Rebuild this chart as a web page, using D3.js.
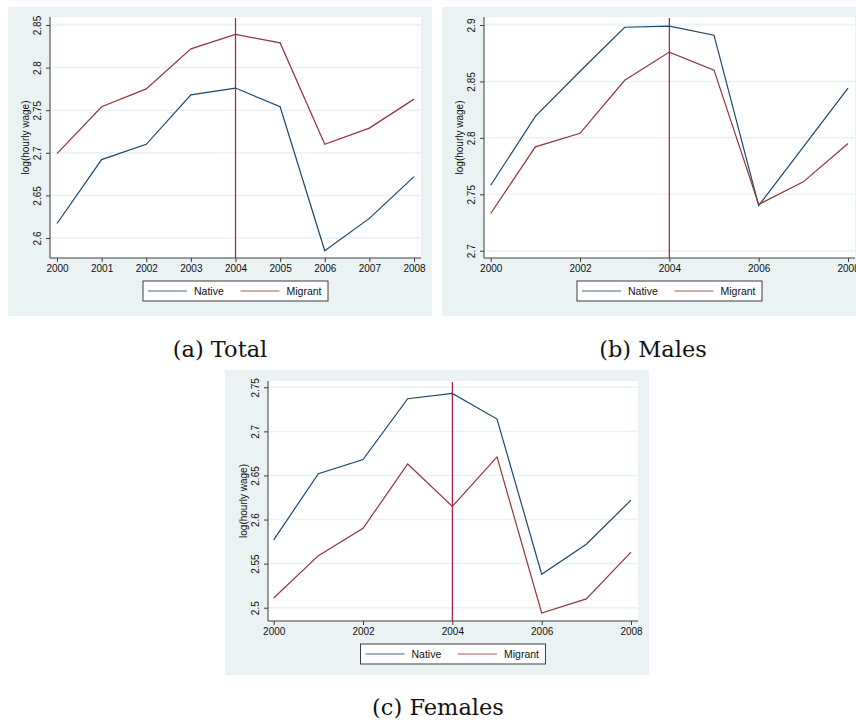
<!DOCTYPE html>
<html>
<head>
<meta charset="utf-8">
<script src="https://cdn.jsdelivr.net/npm/d3@7"></script>
<style>
    body { margin: 0; background: #fff; }
    svg { display: block; }
    .tick text { font-family: "Liberation Sans", Arial, sans-serif; font-size: 10px; fill: #111; }
    .axis path, .axis line { stroke: #3c3c3c; }
</style>
</head>
<body>
<svg id="chart" width="856" height="726"></svg>
<script>
var years = [2000, 2001, 2002, 2003, 2004, 2005, 2006, 2007, 2008];

var totalNative   = [2.617, 2.692, 2.710, 2.768, 2.776, 2.754, 2.585, 2.623, 2.672];
var totalMigrant  = [2.699, 2.754, 2.775, 2.822, 2.839, 2.829, 2.710, 2.729, 2.763];
var malesNative   = [2.758, 2.819, 2.859, 2.898, 2.899, 2.891, 2.740, 2.792, 2.844];
var malesMigrant  = [2.733, 2.792, 2.804, 2.851, 2.876, 2.860, 2.741, 2.761, 2.795];
var femalesNative = [2.577, 2.652, 2.668, 2.737, 2.743, 2.714, 2.538, 2.572, 2.622];
var femalesMigrant= [2.511, 2.559, 2.590, 2.663, 2.615, 2.671, 2.494, 2.510, 2.563];

var totalTicks   = [2.6, 2.65, 2.7, 2.75, 2.8, 2.85];
var malesTicks   = [2.7, 2.75, 2.8, 2.85, 2.9];
var femalesTicks = [2.5, 2.55, 2.6, 2.65, 2.7, 2.75];
var allYearTicks = [2000, 2001, 2002, 2003, 2004, 2005, 2006, 2007, 2008];
var evenYearTicks = [2000, 2002, 2004, 2006, 2008];

var seriesNames = ["Native", "Migrant"];
var reformYear = 2004;
var yTitle = "log(hourly wage)";

var nativeColor = "#1a476f";
var migrantColor = "#90353b";
var bgColor = "#eaf2f3";

var chart = d3.select("#chart");

// ----------------------------------------------------

function drawPanel(p) {
    var g = chart.append("g");

    g.append("rect")
        .attr("x", p.bg[0]).attr("y", p.bg[1])
        .attr("width", p.bg[2]).attr("height", p.bg[3])
        .attr("fill", bgColor);

    g.append("rect")
        .attr("x", p.left).attr("y", p.top)
        .attr("width", p.right - p.left).attr("height", p.bottom - p.top)
        .attr("fill", "#fff");

    var x = d3.scaleLinear().domain([2000, 2008]).range(p.xRange);
    var y = d3.scaleLinear().domain(p.yDomain).range(p.yRange);

    // grid
    g.selectAll(".grid")
        .data(p.yTicks)
        .enter().append("line")
        .attr("x1", p.left + 1).attr("x2", p.right)
        .attr("y1", function (d) { return y(d); })
        .attr("y2", function (d) { return y(d); })
        .attr("stroke", bgColor)
        .attr("stroke-width", 1.5);

    // y axis
    var yAxis = d3.axisLeft(y).tickValues(p.yTicks).tickSize(4).tickFormat(d3.format("~g"));
    var ya = g.append("g")
        .attr("class", "axis")
        .attr("transform", "translate(" + p.left + ",0)")
        .call(yAxis);
    ya.select(".domain").attr("d", "M0," + p.top + "V" + p.bottom);
    ya.selectAll(".tick text")
        .attr("transform", "rotate(-90)")
        .attr("x", 0).attr("y", -9.5).attr("dy", 0)
        .style("text-anchor", "middle");

    g.append("text")
        .attr("transform", "translate(" + (p.left - 21.5) + "," + ((p.top + p.bottom) / 2) + ") rotate(-90)")
        .style("text-anchor", "middle")
        .style("font-family", "Liberation Sans, Arial, sans-serif")
        .style("font-size", "10px")
        .attr("fill", "#111")
        .text(yTitle);

    // x axis
    var xAxis = d3.axisBottom(x).tickValues(p.xTicks).tickSize(4).tickFormat(d3.format("d"));
    var xa = g.append("g")
        .attr("class", "axis")
        .attr("transform", "translate(0," + p.bottom + ")")
        .call(xAxis);
    xa.select(".domain").attr("d", "M" + p.left + ",0H" + p.right);
    xa.selectAll(".tick text").attr("y", 14).attr("dy", 0);

    // reform line
    g.append("line")
        .attr("x1", x(reformYear)).attr("x2", x(reformYear))
        .attr("y1", p.top + 1).attr("y2", p.bottom)
        .attr("stroke", "#b8153d")
        .attr("stroke-width", 1.2);

    var line = d3.line()
        .x(function (d, i) { return x(years[i]); })
        .y(function (d) { return y(d); });

    g.append("path")
        .attr("d", line(p.native))
        .attr("fill", "none")
        .attr("stroke", nativeColor)
        .attr("stroke-width", 1.2);

    g.append("path")
        .attr("d", line(p.migrant))
        .attr("fill", "none")
        .attr("stroke", migrantColor)
        .attr("stroke-width", 1.2);

    // legend
    var lx = (p.left + p.right) / 2 - 92.5;
    var ly = p.bottom + 23;
    var leg = g.append("g").attr("transform", "translate(" + lx + "," + ly + ")");
    leg.append("rect")
        .attr("width", 185).attr("height", 20)
        .attr("fill", "#fff")
        .attr("stroke", "#3c3c3c")
        .attr("stroke-width", 1);

    var legColors = [nativeColor, migrantColor];
    var legOffsets = [5, 97.5];
    seriesNames.forEach(function (name, i) {
        leg.append("line")
            .attr("x1", legOffsets[i]).attr("x2", legOffsets[i] + 39)
            .attr("y1", 10).attr("y2", 10)
            .attr("stroke", legColors[i])
            .attr("stroke-opacity", 0.55)
            .attr("stroke-width", 1.5);
        leg.append("text")
            .attr("x", legOffsets[i] + 46).attr("y", 13.5)
            .style("font-family", "Liberation Sans, Arial, sans-serif")
            .style("font-size", "10.5px")
            .attr("fill", "#111")
            .text(name);
    });

    // caption
    chart.append("text")
        .attr("x", p.caption[1]).attr("y", p.caption[2])
        .style("text-anchor", "middle")
        .style("font-family", "DejaVu Serif, serif")
        .style("font-size", "22.5px")
        .attr("fill", "#111")
        .text(p.caption[0]);
}

drawPanel({
    bg: [8, 7, 424, 309], left: 50, right: 421, top: 17, bottom: 258,
    xRange: [57, 414], yDomain: [2.6, 2.85], yRange: [238, 25],
    yTicks: totalTicks, xTicks: allYearTicks,
    native: totalNative, migrant: totalMigrant,
    caption: ["(a) Total", 220, 357]
});

drawPanel({
    bg: [442, 7, 414, 309], left: 484, right: 855, top: 17, bottom: 258,
    xRange: [490.7, 848], yDomain: [2.7, 2.9], yRange: [250.7, 25],
    yTicks: malesTicks, xTicks: evenYearTicks,
    native: malesNative, migrant: malesMigrant,
    caption: ["(b) Males", 653, 357]
});

drawPanel({
    bg: [225, 370, 424, 305], left: 268, right: 638, top: 381, bottom: 621,
    xRange: [273.7, 631], yDomain: [2.5, 2.75], yRange: [607.7, 387.3],
    yTicks: femalesTicks, xTicks: evenYearTicks,
    native: femalesNative, migrant: femalesMigrant,
    caption: ["(c) Females", 438, 715]
});
</script>
</body>
</html>
